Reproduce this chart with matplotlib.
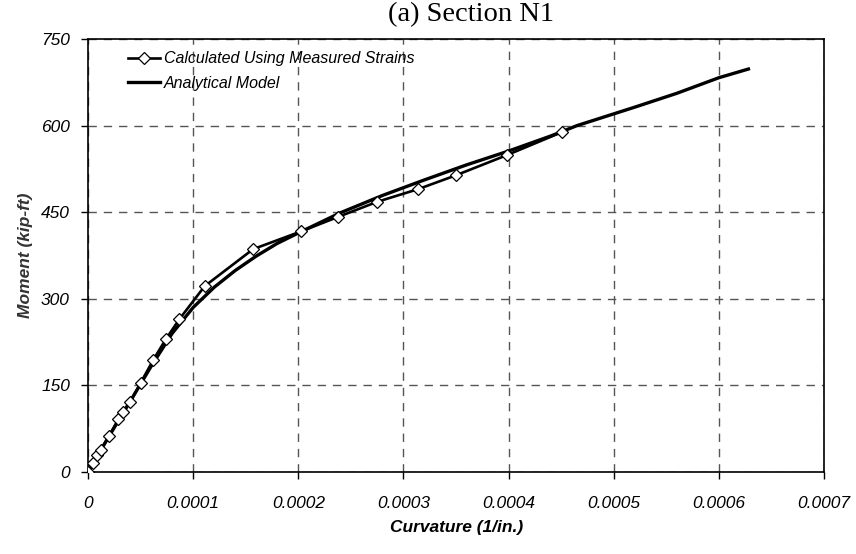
import matplotlib.pyplot as plt
from matplotlib.lines import Line2D

# measured curvature / moment
measCurv = [0, 0.000005, 0.000009, 0.000012, 0.00002, 0.000029, 0.000033, 0.00004,
            0.00005, 0.000062, 0.000074, 0.000087, 0.000111, 0.000157, 0.000203,
            0.000238, 0.000275, 0.000314, 0.00035, 0.0003985, 0.000451]
measMoment = [0, 15, 30, 38, 62, 92, 104, 121, 154, 194, 230, 265, 322, 386, 417,
              442, 468, 490, 514, 549, 589]

# analytical model
modelCurv = [0, 0.00002, 0.00004, 0.00006, 0.00008, 0.0001, 0.00012, 0.00014,
             0.00016, 0.00018, 0.0002, 0.00024, 0.00028, 0.00032, 0.00036, 0.0004,
             0.00044, 0.000465, 0.00052, 0.00056, 0.0006, 0.000628]
modelMoment = [0, 62, 122, 183, 240, 285, 320, 349, 374, 396, 414, 449, 479, 506,
               532, 556, 582, 600, 632, 656, 683, 698]

xTicks = [0, 0.0001, 0.0002, 0.0003, 0.0004, 0.0005, 0.0006, 0.0007]
xTickLabels = ['0', '0.0001', '0.0002', '0.0003', '0.0004', '0.0005', '0.0006', '0.0007']
yTicks = [0, 150, 300, 450, 600, 750]

plt.rcParams['font.family'] = ['Liberation Sans', 'DejaVu Sans']

fig = plt.figure(figsize=(8.56, 5.54), dpi=100)
ax = fig.add_axes([0.1028, 0.148, 0.86, 0.7816])

ax.plot(modelCurv, modelMoment, color='black', linewidth=2.4, zorder=3)
ax.plot(measCurv, measMoment, color='black', linewidth=1.9, marker='D',
        markersize=6, markerfacecolor='white', markeredgecolor='black',
        markeredgewidth=0.9, zorder=4)

ax.set_xlim(0, 0.0007)
ax.set_ylim(0, 750)
ax.set_xticks(xTicks)
ax.set_xticklabels(xTickLabels, fontstyle='italic', fontsize=12.5)
ax.set_yticks(yTicks)
ax.set_yticklabels([str(v) for v in yTicks], fontstyle='italic', fontsize=12.5)
ax.tick_params(direction='out', length=5, width=1)
ax.tick_params(axis='x', pad=12)
ax.tick_params(axis='y', pad=8)

ax.grid(True, color='#555555', linestyle=(0, (6, 5)), linewidth=1)
ax.set_axisbelow(True)
for s in ax.spines.values():
    s.set_color('black')
    s.set_linewidth(1.2)

ax.set_xlabel('Curvature (1/in.)', fontsize=12.5, fontweight='bold', fontstyle='italic', labelpad=7)
ax.set_ylabel('Moment (kip-ft)', fontsize=12.5, fontweight='bold', fontstyle='italic',
              color='#333333', labelpad=6)

handles = [
    Line2D([], [], color='black', linewidth=1.9, marker='D', markersize=6,
           markerfacecolor='white', markeredgecolor='black', markeredgewidth=0.9),
    Line2D([], [], color='black', linewidth=2.4),
]
leg = ax.legend(handles, ['Calculated Using Measured Strains', 'Analytical Model'],
                loc='upper left', bbox_to_anchor=(0.035, 1.005), frameon=False,
                handlelength=2.0, handletextpad=0.25, labelspacing=0.6,
                prop={'style': 'italic', 'size': 11.5})

fig.text(0.55, 0.974, '(a) Section N1', ha='center', va='center',
         fontsize=20.5, family=['Liberation Serif', 'DejaVu Serif'])

plt.savefig('out.png', dpi=100)
plt.close()
